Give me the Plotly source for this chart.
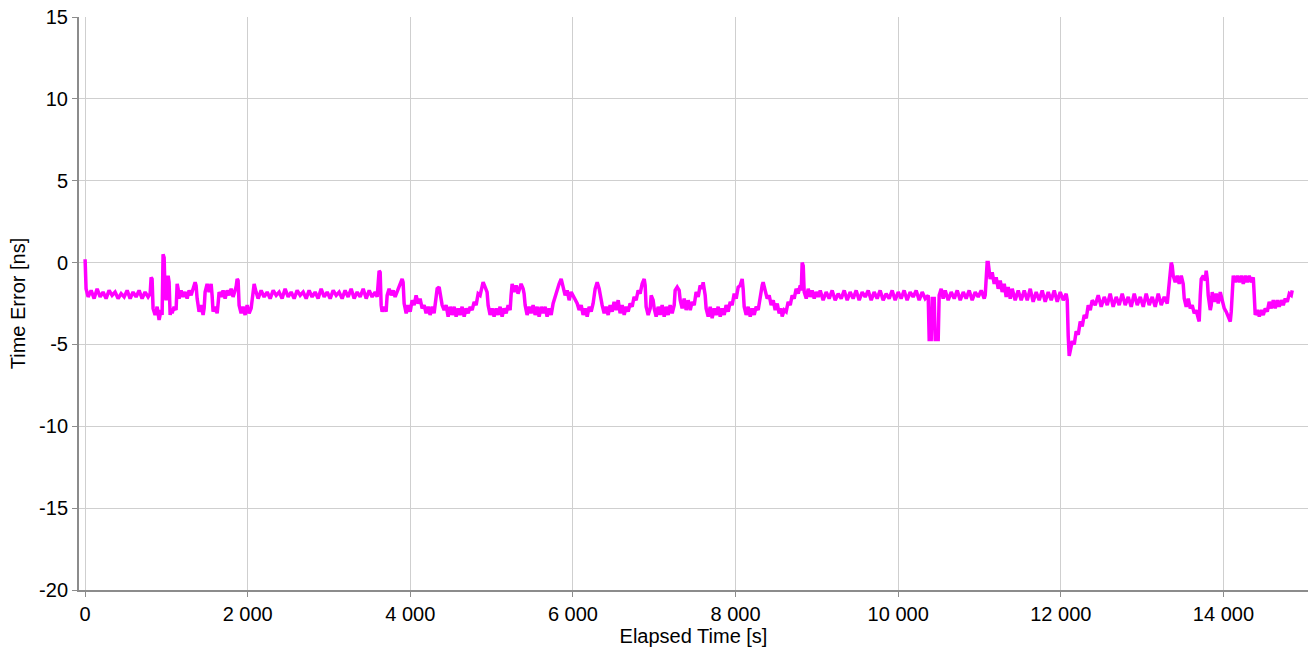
import plotly.graph_objects as go

# Elapsed time samples [s]
elapsed_s = [
    0, 12, 37, 74, 111, 148, 185, 221, 258, 295, 332, 369, 406, 443, 480, 517, 554, 590, 627, 664,
    701, 738, 775, 800, 812, 824, 836, 861, 886, 910, 935, 947, 959, 972, 984, 996, 1009, 1021, 1033, 1046,
    1058, 1070, 1095, 1119, 1132, 1144, 1156, 1181, 1205, 1230, 1255, 1279, 1304, 1328, 1353, 1365, 1378, 1402, 1427, 1451,
    1464, 1476, 1501, 1525, 1550, 1562, 1574, 1599, 1624, 1636, 1648, 1673, 1697, 1722, 1747, 1771, 1796, 1820, 1845, 1857,
    1870, 1882, 1894, 1919, 1943, 1968, 1993, 2017, 2042, 2066, 2079, 2103,
    2128, 2165, 2202, 2239, 2276, 2313, 2350, 2386, 2423, 2460, 2497, 2534, 2571, 2608, 2645, 2682, 2719, 2755, 2792, 2829,
    2866, 2903, 2940, 2977, 3014, 3051, 3088, 3124, 3161, 3198, 3235, 3272, 3309, 3346, 3383, 3420, 3457, 3494, 3530, 3567, 3592,
    3616, 3629, 3641, 3653, 3678, 3702, 3715, 3739, 3764, 3789, 3813, 3838, 3862, 3887, 3899, 3911, 3924, 3949, 3973, 3998,
    4022, 4047, 4071, 4096, 4120, 4145, 4170, 4194, 4219, 4243, 4268, 4292, 4317, 4330, 4354, 4366, 4391, 4416, 4440, 4465,
    4490, 4514, 4539, 4563, 4588, 4612, 4637, 4662, 4686, 4711, 4736, 4760, 4785, 4809, 4834, 4858, 4883, 4895, 4920, 4944,
    4957, 4981, 5006, 5030, 5055, 5080, 5104, 5129, 5153, 5178, 5203, 5227, 5239, 5252, 5276, 5301, 5325, 5350, 5362, 5387,
    5399, 5412, 5436, 5461, 5485, 5510, 5535, 5560, 5584, 5609, 5633, 5658, 5682, 5707, 5732, 5756, 5781, 5806, 5830, 5855,
    5879, 5904, 5929, 5953, 5978, 6002, 6027,
    6052, 6076, 6101, 6125, 6150, 6175, 6199, 6224, 6248, 6273, 6298, 6322, 6334, 6359, 6384, 6408, 6433, 6457, 6482, 6506,
    6531, 6556, 6580, 6605, 6630, 6654, 6679, 6703, 6728, 6752, 6777, 6802, 6826, 6851, 6876, 6888, 6900, 6925, 6950, 6962,
    6986, 6999, 7023, 7048, 7072, 7097, 7122, 7146, 7171, 7195, 7220, 7245, 7257, 7282, 7306, 7319, 7343, 7368, 7392, 7417,
    7442, 7466, 7491, 7515, 7540, 7564, 7589, 7601, 7626, 7638, 7663, 7688, 7712, 7737, 7761, 7786, 7811, 7835, 7860, 7884,
    7909, 7934, 7958, 7983, 8007, 8032, 8056, 8081, 8093, 8106, 8130, 8155, 8180, 8204, 8229, 8253, 8278, 8303, 8327, 8339,
    8364, 8389, 8413, 8438, 8463, 8487, 8512, 8536, 8561, 8573, 8598, 8622, 8647, 8672, 8696, 8721, 8745, 8770, 8795, 8807,
    8819, 8832, 8844, 8869, 8893, 8918, 8942, 8967, 8991, 9016,
    9041, 9077, 9114, 9151, 9188, 9225, 9262, 9299, 9336, 9373, 9409, 9446, 9483, 9520, 9557, 9594, 9631, 9668, 9704, 9741,
    9778, 9815, 9852, 9889, 9926, 9963, 10000, 10036, 10073, 10110, 10147, 10184, 10221, 10258, 10295, 10332,
    10369, 10381, 10406, 10418, 10443, 10455, 10492, 10504, 10529, 10553,
    10578, 10615, 10652, 10689, 10726, 10763, 10800, 10836, 10873, 10910, 10947, 10984, 11021, 11058, 11070,
    11094, 11107, 11119, 11131, 11156, 11181, 11205, 11230, 11255, 11279, 11304, 11328, 11353, 11378, 11402,
    11439, 11476, 11513, 11550, 11587, 11624, 11660, 11697, 11734, 11771, 11808, 11845, 11882, 11919, 11956, 11993, 12030, 12066,
    12079, 12091, 12103, 12116, 12140, 12165, 12189, 12214, 12239, 12263, 12288, 12313, 12337, 12362, 12386,
    12423, 12460, 12497, 12534, 12571, 12607, 12644, 12681, 12718, 12755, 12792, 12829, 12866, 12903, 12940, 12977, 13014, 13050,
    13087, 13124, 13161, 13198, 13235, 13272, 13309,
    13346, 13358, 13370, 13382, 13407, 13432, 13456, 13481, 13505, 13518, 13542, 13567, 13592, 13616, 13641, 13665, 13690, 13702,
    13715, 13727, 13752, 13776, 13788, 13801, 13813, 13838, 13850, 13862, 13887, 13911, 13936, 13961, 13985, 14010, 14034, 14059,
    14084, 14096, 14108, 14121, 14145, 14170, 14194, 14219, 14244, 14268, 14293, 14317, 14342, 14367, 14379, 14391, 14416, 14441,
    14465, 14490, 14514, 14539, 14563, 14588, 14613, 14637, 14662, 14686, 14711, 14736, 14760, 14785, 14810, 14834, 14846,
]

# Measured time error [ns]
time_error_ns = [
    0.2, -1.6, -2.1, -1.7, -2.2, -1.6, -2.1, -1.8, -2.2, -1.7, -2.0, -1.8, -2.2, -1.9, -2.1, -1.7, -2.2, -1.8, -2.1, -1.7,
    -2.2, -1.8, -2.1, -1.9, -0.9, -1.0, -2.8, -3.2, -2.7, -3.5, -2.9, -3.2, 0.5, 0.3, -2.0, -2.3, -1.9, -0.8, -1.2, -3.2,
    -2.8, -3.1, -2.7, -2.9, -1.3, -1.6, -2.2, -1.7, -2.1, -1.8, -2.2, -1.7, -2.0, -1.6, -1.2, -1.4, -2.2, -3.0, -2.6, -3.2,
    -2.8, -1.8, -1.3, -1.8, -1.3, -2.0, -3.0, -2.7, -3.1, -2.5, -1.8, -2.1, -1.7, -2.2, -1.7, -2.0, -1.6, -2.1, -1.7, -1.5,
    -1.0, -1.1, -2.6, -3.1, -2.7, -3.2, -2.6, -3.1, -2.8, -1.6, -1.3, -1.8,
    -2.2, -1.7, -2.1, -1.8, -2.2, -1.7, -2.0, -1.8, -2.2, -1.6, -2.1, -1.8, -2.2, -1.7, -2.0, -1.8, -2.2, -1.7, -2.1, -1.8,
    -2.2, -1.6, -2.1, -1.8, -2.2, -1.7, -2.0, -1.8, -2.2, -1.7, -2.1, -1.6, -2.2, -1.8, -2.1, -1.6, -2.2, -1.7, -2.1, -1.8, -2.1,
    -0.5, -0.6, -2.6, -3.0, -2.7, -3.0, -2.0, -1.6, -2.0, -1.7, -2.1, -1.8, -1.4, -1.2, -1.0, -1.2, -2.5, -3.1, -2.6, -3.0,
    -2.3, -2.6, -2.0, -2.5, -2.2, -2.8, -2.6, -3.1, -2.7, -3.2, -2.7, -3.1, -2.3, -1.6, -1.5, -2.0, -2.6, -2.9, -2.6, -3.3,
    -2.7, -3.2, -2.7, -3.3, -2.8, -3.2, -2.7, -3.3, -2.8, -3.1, -2.7, -2.9, -2.4, -2.6, -1.9, -2.0, -1.4, -1.2, -1.5, -1.8,
    -2.6, -3.2, -2.8, -3.3, -2.8, -3.2, -2.7, -3.3, -2.8, -3.1, -2.6, -2.9, -2.0, -1.3, -1.8, -1.4, -1.9, -1.5, -1.3, -1.6,
    -1.9, -2.6, -3.2, -2.7, -3.1, -2.6, -3.2, -2.7, -3.3, -2.7, -3.1, -2.7, -3.3, -2.8, -3.2, -2.5, -2.1, -1.6, -1.3, -1.0,
    -1.5, -2.0, -1.7, -2.3, -1.8, -2.0, -2.3,
    -2.5, -2.9, -2.6, -3.2, -2.8, -3.3, -2.7, -3.0, -2.5, -1.6, -1.2, -1.6, -2.0, -2.6, -3.1, -2.7, -3.2, -2.6, -3.0, -2.4,
    -2.9, -2.3, -3.1, -2.6, -3.2, -2.7, -3.0, -2.5, -2.7, -2.1, -2.3, -1.7, -1.9, -1.3, -1.0, -1.4, -2.7, -3.2, -2.8, -2.0,
    -2.3, -2.8, -3.3, -2.7, -3.2, -2.6, -3.3, -2.7, -3.2, -2.6, -3.1, -2.6, -1.7, -1.5, -1.7, -2.3, -2.8, -2.2, -2.9, -2.3,
    -2.9, -2.4, -2.6, -1.8, -2.1, -1.4, -1.6, -1.2, -2.0, -2.8, -3.3, -2.7, -3.4, -2.8, -3.2, -2.7, -3.3, -2.8, -3.2, -2.6,
    -3.0, -2.4, -2.6, -1.9, -2.2, -1.5, -1.4, -1.0, -1.6, -2.7, -3.2, -2.7, -3.3, -2.8, -3.2, -2.7, -2.9, -2.0, -1.4, -1.2,
    -1.7, -2.2, -2.0, -2.6, -2.3, -2.9, -2.5, -3.1, -2.8, -3.3, -2.9, -3.0, -2.4, -2.6, -2.0, -2.2, -1.6, -1.9, -1.4, -1.7,
    0.0, -0.2, -1.8, -2.2, -1.6, -2.1, -1.7, -2.2, -1.8, -2.1,
    -1.7, -2.3, -1.8, -2.2, -1.7, -2.3, -1.9, -2.2, -1.7, -2.3, -1.8, -2.2, -1.7, -2.3, -1.8, -2.1, -1.7, -2.3, -1.8, -2.2,
    -1.7, -2.3, -1.9, -2.2, -1.7, -2.3, -1.8, -2.2, -1.7, -2.3, -1.8, -2.1, -1.7, -2.3, -1.8, -2.2,
    -2.0, -4.7, -4.7, -2.2, -2.2, -4.7, -4.7, -2.0, -1.6, -2.2,
    -1.7, -2.3, -1.8, -2.2, -1.7, -2.3, -1.8, -2.2, -1.7, -2.3, -1.8, -2.1, -1.7, -2.2, -2.0,
    0.0, 0.0, -0.4, -1.0, -0.6, -1.3, -0.9, -1.6, -1.1, -1.8, -1.3, -2.1, -1.5, -2.2, -1.6,
    -2.3, -1.7, -2.3, -1.7, -2.3, -1.6, -2.4, -1.8, -2.3, -1.7, -2.4, -1.8, -2.3, -1.7, -2.4, -1.8, -2.3, -1.9,
    -2.3, -4.5, -5.7, -5.4, -4.8, -5.0, -4.2, -4.4, -3.6, -3.9, -3.2, -3.4, -2.6, -2.9, -2.3,
    -2.6, -2.0, -2.7, -2.1, -2.6, -1.9, -2.7, -2.1, -2.6, -1.9, -2.6, -2.1, -2.7, -1.9, -2.6, -2.1, -2.7, -1.9,
    -2.6, -2.1, -2.7, -1.9, -2.6, -2.1, -2.5,
    -0.6, 0.0, -0.2, -0.8, -1.2, -0.8, -1.3, -0.8, -1.3, -2.2, -2.7, -2.2, -2.8, -2.6, -3.1, -2.9, -3.4, -3.6,
    -2.0, -1.0, -0.8, -1.1, -0.5, -1.0, -2.0, -2.9, -2.6, -1.8, -2.4, -1.9, -2.5, -1.8, -2.3, -2.8, -3.0, -3.3,
    -3.6, -3.0, -1.5, -0.8, -1.2, -0.8, -1.2, -0.8, -1.3, -0.8, -1.2, -0.8, -1.2, -0.9, -2.0, -3.2, -2.9, -3.3,
    -2.9, -3.2, -2.8, -3.0, -2.4, -2.8, -2.3, -2.8, -2.3, -2.7, -2.3, -2.6, -2.2, -2.4, -1.9, -2.0, -1.7,
]

# Axis ticks
x_tick_values = [0, 2000, 4000, 6000, 8000, 10000, 12000, 14000]
x_tick_labels = ["0", "2 000", "4 000", "6 000", "8 000", "10 000", "12 000", "14 000"]
y_tick_values = [-20, -15, -10, -5, 0, 5, 10, 15]
y_tick_labels = ["-20", "-15", "-10", "-5", "0", "5", "10", "15"]

fig = go.Figure(
    go.Scatter(
        x=elapsed_s,
        y=time_error_ns,
        mode="lines",
        line=dict(color="#FF00FF", width=3.5),
        showlegend=False,
        hoverinfo="x+y",
    )
)

font_family = "Liberation Sans, Arial, sans-serif"

fig.update_layout(
    width=1314,
    height=647,
    margin=dict(l=79, r=6, t=17, b=55),
    paper_bgcolor="white",
    plot_bgcolor="white",
    font=dict(family=font_family, size=20, color="#000000"),
    xaxis=dict(
        range=[-75, 15040],
        tickmode="array",
        tickvals=x_tick_values,
        ticktext=x_tick_labels,
        showgrid=True,
        gridcolor="#cfcfcf",
        gridwidth=1,
        zeroline=False,
        showline=True,
        linecolor="#8c8c8c",
        linewidth=2,
        ticks="outside",
        ticklen=5,
        tickwidth=1,
        tickcolor="#8c8c8c",
        tickfont=dict(size=20),
        title=dict(text="Elapsed Time [s]", font=dict(size=20), standoff=2),
    ),
    yaxis=dict(
        range=[-20, 15],
        tickmode="array",
        tickvals=y_tick_values,
        ticktext=y_tick_labels,
        showgrid=True,
        gridcolor="#cfcfcf",
        gridwidth=1,
        zeroline=False,
        showline=True,
        linecolor="#8c8c8c",
        linewidth=2,
        ticks="outside",
        ticklen=5,
        tickwidth=1,
        tickcolor="#8c8c8c",
        tickfont=dict(size=20),
        title=dict(text="Time Error [ns]", font=dict(size=20), standoff=8),
    ),
)

fig.write_html("out.html")
